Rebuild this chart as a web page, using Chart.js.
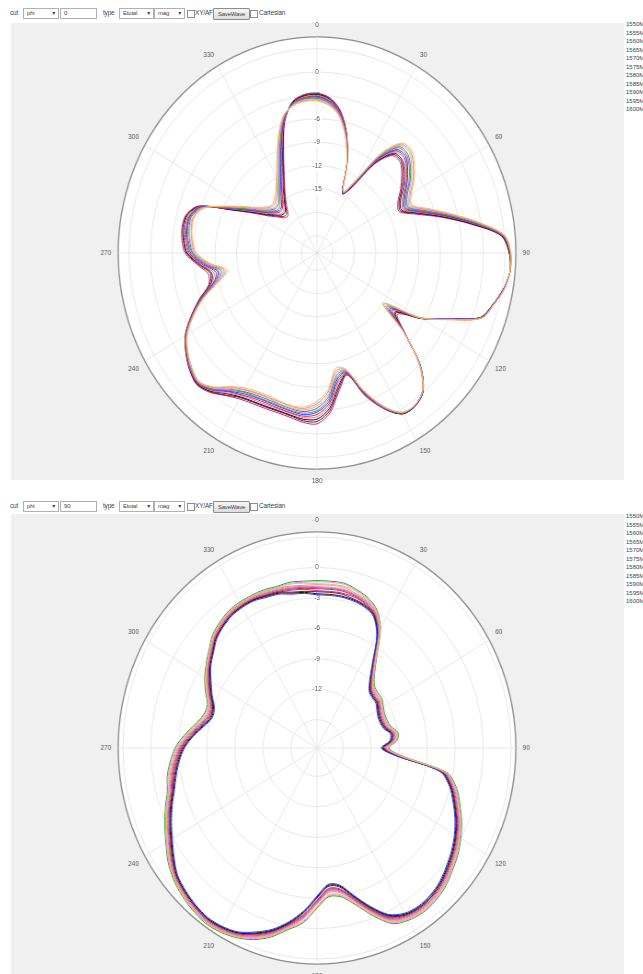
<!DOCTYPE html>
<html><head><meta charset="utf-8">
<script src="https://cdn.jsdelivr.net/npm/chart.js@4"></script>
<style>
body{margin:0;width:643px;height:974px;overflow:hidden;background:#fff;position:relative;font-family:"Liberation Sans","DejaVu Sans",sans-serif;color:#444}
.t{position:absolute;font-size:6.5px;line-height:10px;white-space:nowrap;letter-spacing:-0.2px}
.box{position:absolute;height:9px;border:1px solid #b0b0b0;background:#fff;font-size:6px;line-height:9px;padding-left:3px;box-sizing:content-box;letter-spacing:-0.2px}
.sel:after{content:"\25BE";position:absolute;right:3px;top:0;font-size:6px}
.btn{position:absolute;height:10px;border:1px solid #8c8c8c;background:linear-gradient(#f6f6f6,#dcdcdc);font-size:6px;line-height:10px;text-align:center;border-radius:1px;letter-spacing:-0.2px}
.chk{position:absolute;width:6px;height:6px;border:1px solid #8f8f8f;background:#fff}
.panel{position:absolute;left:11px;width:613px;background:#f0f0f0}
canvas.cv{position:absolute;left:57px;transform:scaleX(0.92);transform-origin:260px 232px}
.lg{position:absolute;left:626px;font-size:6px;line-height:8.5px;color:#444;white-space:nowrap}
</style></head><body>

<div class="t" style="left:10px;top:8px">cut</div>
<div class="box sel" style="left:23px;top:8px;width:31px">phi</div>
<div class="box" style="left:60px;top:8px;width:32px">0</div>
<div class="t" style="left:103px;top:8px">type</div>
<div class="box sel" style="left:119px;top:8px;width:30px">Etotal</div>
<div class="box sel" style="left:154px;top:8px;width:26px">mag</div>
<div class="chk" style="left:187px;top:10px"></div>
<div class="t" style="left:195px;top:8px">XY/AF</div>
<div class="btn" style="left:213px;top:8px;width:35px">SaveWave</div>
<div class="chk" style="left:250px;top:10px"></div>
<div class="t" style="left:259px;top:8px">Cartesian</div>

<div class="t" style="left:10px;top:501px">cut</div>
<div class="box sel" style="left:23px;top:501px;width:31px">phi</div>
<div class="box" style="left:60px;top:501px;width:32px">90</div>
<div class="t" style="left:103px;top:501px">type</div>
<div class="box sel" style="left:119px;top:501px;width:30px">Etotal</div>
<div class="box sel" style="left:154px;top:501px;width:26px">mag</div>
<div class="chk" style="left:187px;top:503px"></div>
<div class="t" style="left:195px;top:501px">XY/AF</div>
<div class="btn" style="left:213px;top:501px;width:35px">SaveWave</div>
<div class="chk" style="left:250px;top:503px"></div>
<div class="t" style="left:259px;top:501px">Cartesian</div>

<div class="panel" style="top:23px;height:457px"></div>
<div class="panel" style="top:514px;height:460px"></div>
<div class="lg" id="lg1" style="top:20px"></div>
<div class="lg" id="lg2" style="top:512px"></div>

<canvas class="cv" id="c1" width="520" height="464" style="top:21px"></canvas>
<canvas class="cv" id="c2" width="520" height="464" style="top:516px"></canvas>

<script>
const angleLabels = ['0','5','10','15','20','25','30','35','40','45','50','55','60','65','70','75','80','85','90','95','100','105','110','115','120','125','130','135','140','145','150','155','160','165','170','175','180','185','190','195','200','205','210','215','220','225','230','235','240','245','250','255','260','265','270','275','280','285','290','295','300','305','310','315','320','325','330','335','340','345','350','355'];
const freqLabels = ['1550MHz','1555MHz','1560MHz','1565MHz','1570MHz','1575MHz','1580MHz','1585MHz','1590MHz','1595MHz','1600MHz'];
const colors = ['#f7b860','#f08a8a','#d9a0e6','#2ca02c','#9467bd','#2040ff','#d62728','#e377c2','#111111','#8b1010','#b030b0'];

const topTicks = [-21,-18,-15,-12,-9,-6,-3,0,3,4.5];
const topTickLabels = ['-15','-12','-9','-6','-3','0'];
const botTicks = [-15,-12,-9,-6,-3,0,3,3.5];
const botTickLabels = ['-12','-9','-6','-3','0'];

// phi = 0 cut (dB)
const top1550 = [-3.7,-4.2,-5.4,-7.8,-11.0,-14.5,-12.5,-7.6,-4.8,-4.6,-5.5,-6.7,-8.0,-8.6,-6.6,-3.8,-0.4,3.0,3.8,3.8,3.3,2.3,1.2,-3.0,-6.6,-12.0,-7.5,-3.0,-0.3,0.6,0.4,-1.6,-4.6,-7.8,-8.2,-5.6,-4.2,-3.4,-3.3,-3.5,-3.7,-3.6,-3.2,-2.3,-0.8,0.1,-0.4,-1.2,-2.3,-4.2,-6.4,-9.0,-10.5,-8.2,-6.4,-5.8,-5.5,-5.5,-6.4,-9.0,-11.3,-13.0,-14.0,-14.4,-14.0,-13.2,-11.9,-10.0,-7.4,-5.0,-4.0,-3.7];
const top1555 = [-3.6,-4.1,-5.3,-7.8,-11.0,-14.5,-12.6,-7.8,-5.0,-4.8,-5.7,-6.9,-8.2,-8.8,-6.8,-4.0,-0.5,3.0,3.8,3.8,3.3,2.3,1.2,-3.0,-6.6,-11.8,-7.5,-3.0,-0.3,0.6,0.4,-1.6,-4.5,-7.7,-7.9,-5.3,-3.9,-3.2,-3.2,-3.4,-3.5,-3.4,-3.0,-2.2,-0.7,0.1,-0.4,-1.2,-2.3,-4.2,-6.3,-8.9,-10.2,-8.0,-6.2,-5.7,-5.4,-5.4,-6.3,-9.1,-11.5,-13.2,-14.2,-14.6,-14.3,-13.5,-12.1,-10.2,-7.6,-5.1,-4.0,-3.6];
const top1560 = [-3.5,-4.0,-5.2,-7.7,-11.0,-14.6,-12.7,-7.9,-5.2,-5.0,-6.0,-7.2,-8.4,-9.0,-7.0,-4.1,-0.6,2.9,3.8,3.8,3.3,2.3,1.2,-3.1,-6.6,-11.5,-7.4,-3.0,-0.3,0.6,0.4,-1.5,-4.4,-7.6,-7.6,-5.0,-3.6,-3.0,-3.0,-3.2,-3.4,-3.3,-2.9,-2.0,-0.6,0.2,-0.3,-1.1,-2.2,-4.1,-6.3,-8.7,-10.0,-7.8,-6.1,-5.5,-5.2,-5.3,-6.2,-9.2,-11.6,-13.4,-14.4,-14.9,-14.6,-13.7,-12.4,-10.5,-7.8,-5.2,-3.9,-3.5];
const top1565 = [-3.4,-3.9,-5.2,-7.7,-11.0,-14.6,-12.8,-8.1,-5.4,-5.3,-6.2,-7.4,-8.7,-9.2,-7.2,-4.3,-0.8,2.9,3.7,3.8,3.3,2.3,1.1,-3.1,-6.5,-11.3,-7.4,-3.0,-0.3,0.6,0.5,-1.5,-4.4,-7.6,-7.3,-4.7,-3.3,-2.8,-2.9,-3.1,-3.2,-3.1,-2.7,-1.9,-0.5,0.2,-0.3,-1.1,-2.2,-4.1,-6.2,-8.6,-9.7,-7.7,-5.9,-5.4,-5.1,-5.1,-6.2,-9.4,-11.8,-13.6,-14.6,-15.1,-14.9,-14.0,-12.6,-10.7,-8.1,-5.2,-3.9,-3.4];
const top1570 = [-3.3,-3.8,-5.1,-7.6,-11.0,-14.6,-12.9,-8.3,-5.6,-5.5,-6.4,-7.6,-8.9,-9.4,-7.4,-4.4,-0.9,2.8,3.7,3.8,3.3,2.3,1.1,-3.1,-6.5,-11.0,-7.4,-3.0,-0.3,0.6,0.5,-1.4,-4.3,-7.5,-7.0,-4.4,-3.0,-2.6,-2.7,-2.9,-3.0,-2.9,-2.6,-1.7,-0.4,0.3,-0.2,-1.1,-2.2,-4.0,-6.1,-8.4,-9.4,-7.5,-5.8,-5.2,-4.9,-5.0,-6.1,-9.5,-12.0,-13.8,-14.8,-15.4,-15.2,-14.2,-12.9,-11.0,-8.3,-5.3,-3.8,-3.3];
const top1575 = [-3.2,-3.7,-5.0,-7.6,-11.0,-14.7,-13.0,-8.5,-5.9,-5.7,-6.7,-7.9,-9.1,-9.6,-7.6,-4.6,-1.0,2.8,3.7,3.8,3.2,2.2,1.1,-3.2,-6.5,-10.8,-7.4,-3.0,-0.2,0.7,0.5,-1.4,-4.2,-7.4,-6.8,-4.1,-2.8,-2.4,-2.6,-2.8,-2.9,-2.8,-2.4,-1.6,-0.4,0.3,-0.2,-1.1,-2.2,-4.0,-6.1,-8.3,-9.2,-7.3,-5.6,-5.1,-4.8,-4.9,-6.0,-9.6,-12.2,-14.0,-15.0,-15.6,-15.5,-14.5,-13.1,-11.2,-8.5,-5.4,-3.8,-3.3];
const top1580 = [-3.1,-3.6,-4.9,-7.5,-11.0,-14.7,-13.1,-8.6,-6.1,-5.9,-6.9,-8.1,-9.3,-9.8,-7.8,-4.8,-1.1,2.7,3.7,3.8,3.2,2.2,1.1,-3.2,-6.5,-10.5,-7.3,-2.9,-0.2,0.7,0.5,-1.4,-4.1,-7.3,-6.5,-3.8,-2.5,-2.2,-2.4,-2.6,-2.7,-2.6,-2.2,-1.5,-0.3,0.4,-0.2,-1.0,-2.1,-4.0,-6.0,-8.2,-8.9,-7.1,-5.4,-4.9,-4.7,-4.8,-5.9,-9.7,-12.3,-14.1,-15.2,-15.8,-15.7,-14.8,-13.3,-11.4,-8.7,-5.5,-3.7,-3.2];
const top1585 = [-3.0,-3.5,-4.8,-7.5,-11.0,-14.7,-13.2,-8.8,-6.3,-6.1,-7.1,-8.3,-9.5,-10.0,-8.0,-4.9,-1.2,2.7,3.7,3.8,3.2,2.2,1.1,-3.2,-6.5,-10.3,-7.3,-2.9,-0.2,0.7,0.5,-1.3,-4.0,-7.2,-6.2,-3.5,-2.2,-2.0,-2.3,-2.5,-2.5,-2.4,-2.1,-1.3,-0.2,0.4,-0.1,-1.0,-2.1,-3.9,-5.9,-8.0,-8.6,-6.9,-5.3,-4.8,-4.5,-4.7,-5.8,-9.8,-12.5,-14.3,-15.4,-16.1,-16.0,-15.0,-13.6,-11.7,-8.9,-5.6,-3.7,-3.1];
const top1590 = [-2.9,-3.4,-4.8,-7.4,-11.0,-14.7,-13.3,-9.0,-6.5,-6.4,-7.3,-8.5,-9.8,-10.2,-8.2,-5.1,-1.4,2.6,3.6,3.8,3.2,2.2,1.0,-3.2,-6.4,-10.0,-7.3,-2.9,-0.2,0.7,0.6,-1.3,-4.0,-7.2,-5.9,-3.2,-1.9,-1.8,-2.1,-2.3,-2.3,-2.2,-1.9,-1.2,-0.1,0.5,-0.1,-1.0,-2.1,-3.9,-5.8,-7.9,-8.3,-6.8,-5.1,-4.6,-4.4,-4.5,-5.8,-10.0,-12.7,-14.5,-15.6,-16.3,-16.3,-15.3,-13.8,-11.9,-9.2,-5.6,-3.6,-3.0];
const top1595 = [-2.8,-3.3,-4.7,-7.4,-11.0,-14.8,-13.4,-9.1,-6.7,-6.6,-7.6,-8.8,-10.0,-10.4,-8.4,-5.2,-1.5,2.6,3.6,3.8,3.2,2.2,1.0,-3.3,-6.4,-9.8,-7.2,-2.9,-0.2,0.7,0.6,-1.2,-3.9,-7.1,-5.6,-2.9,-1.6,-1.6,-2.0,-2.2,-2.2,-2.1,-1.8,-1.0,0.0,0.5,0.0,-0.9,-2.0,-3.8,-5.8,-7.7,-8.1,-6.6,-5.0,-4.5,-4.2,-4.4,-5.7,-10.1,-12.8,-14.7,-15.8,-16.6,-16.6,-15.5,-14.1,-12.2,-9.4,-5.7,-3.6,-2.9];
const top1600 = [-2.7,-3.2,-4.6,-7.3,-11.0,-14.8,-13.5,-9.3,-6.9,-6.8,-7.8,-9.0,-10.2,-10.6,-8.6,-5.4,-1.6,2.5,3.6,3.8,3.2,2.2,1.0,-3.3,-6.4,-9.5,-7.2,-2.9,-0.2,0.7,0.6,-1.2,-3.8,-7.0,-5.3,-2.6,-1.3,-1.4,-1.8,-2.0,-2.0,-1.9,-1.6,-0.9,0.1,0.6,0.0,-0.9,-2.0,-3.8,-5.7,-7.6,-7.8,-6.4,-4.8,-4.3,-4.1,-4.3,-5.6,-10.2,-13.0,-14.9,-16.0,-16.8,-16.9,-15.8,-14.3,-12.4,-9.6,-5.8,-3.5,-2.8];

// phi = 90 cut (dB)
const bot1550 = [-1.6,-1.6,-1.6,-1.8,-2.2,-2.9,-4.4,-6.8,-8.4,-9.3,-9.5,-9.5,-9.8,-10.0,-10.0,-9.8,-9.2,-9.4,-10.3,-8.8,-3.8,-2.5,-1.7,-0.9,-0.2,0.4,0.9,1.4,1.7,1.8,1.6,1.1,-0.4,-2.0,-3.1,-3.3,-2.2,-0.7,0.2,1.3,2.1,2.7,3.0,3.1,2.9,2.6,2.2,1.5,0.7,0.0,-0.7,-1.4,-1.7,-2.2,-2.8,-3.7,-4.7,-5.4,-5.5,-4.8,-4.1,-3.4,-2.8,-2.1,-1.7,-1.4,-1.3,-1.3,-1.4,-1.5,-1.4,-1.5];
const bot1555 = [-1.7,-1.7,-1.7,-2.0,-2.3,-2.9,-4.4,-6.8,-8.4,-9.3,-9.5,-9.5,-9.8,-10.0,-10.0,-9.8,-9.2,-9.4,-10.3,-8.8,-3.8,-2.5,-1.7,-0.9,-0.2,0.4,0.9,1.4,1.7,1.8,1.6,1.0,-0.5,-2.1,-3.3,-3.5,-2.4,-0.9,0.2,1.3,2.1,2.6,2.9,3.0,2.8,2.5,2.1,1.5,0.7,0.0,-0.7,-1.4,-1.8,-2.3,-2.9,-3.8,-4.8,-5.5,-5.5,-4.8,-4.1,-3.5,-2.9,-2.2,-1.8,-1.5,-1.4,-1.4,-1.4,-1.5,-1.6,-1.7];
const bot1560 = [-1.4,-1.4,-1.4,-1.7,-2.1,-2.8,-4.3,-6.7,-8.3,-9.2,-9.4,-9.4,-9.7,-9.9,-9.9,-9.7,-9.1,-9.3,-10.2,-8.7,-3.7,-2.4,-1.6,-0.8,-0.1,0.5,1.0,1.5,1.8,1.9,1.7,1.2,-0.3,-1.9,-3.0,-3.2,-2.1,-0.6,0.3,1.4,2.2,2.7,3.0,3.1,2.9,2.6,2.2,1.6,0.8,0.1,-0.6,-1.3,-1.6,-2.1,-2.7,-3.6,-4.6,-5.3,-5.4,-4.7,-4.0,-3.4,-2.8,-2.1,-1.7,-1.4,-1.3,-1.3,-1.3,-1.4,-1.3,-1.4];
const bot1565 = [-1.3,-1.3,-1.3,-1.6,-2.0,-2.7,-4.2,-6.6,-8.2,-9.1,-9.3,-9.3,-9.6,-9.8,-9.8,-9.6,-9.0,-9.2,-10.1,-8.6,-3.6,-2.3,-1.5,-0.7,0.0,0.6,1.1,1.6,1.9,2.0,1.8,1.3,-0.2,-1.8,-2.9,-3.1,-2.0,-0.5,0.4,1.5,2.3,2.8,3.1,3.2,3.0,2.7,2.3,1.7,0.9,0.2,-0.5,-1.2,-1.5,-2.0,-2.6,-3.5,-4.5,-5.2,-5.3,-4.6,-3.9,-3.3,-2.7,-2.0,-1.6,-1.3,-1.2,-1.2,-1.2,-1.3,-1.2,-1.3];
const bot1570 = [-2.0,-2.0,-2.0,-2.2,-2.5,-3.1,-4.6,-7.0,-8.6,-9.5,-9.7,-9.7,-10.0,-10.2,-10.2,-10.0,-9.4,-9.6,-10.5,-9.0,-4.0,-2.7,-1.9,-1.1,-0.4,0.2,0.7,1.2,1.5,1.6,1.4,0.8,-0.7,-2.3,-3.5,-3.7,-2.6,-1.1,0.0,1.1,1.9,2.5,2.8,2.9,2.7,2.4,2.0,1.3,0.5,-0.2,-0.9,-1.6,-2.0,-2.5,-3.1,-4.0,-5.0,-5.7,-5.7,-5.0,-4.3,-3.6,-3.0,-2.3,-1.9,-1.6,-1.5,-1.5,-1.6,-1.7,-1.8,-1.9];
const bot1575 = [-2.7,-2.7,-2.7,-2.8,-3.0,-3.5,-5.0,-7.4,-9.0,-9.9,-10.1,-10.1,-10.4,-10.6,-10.6,-10.4,-9.8,-10.0,-10.9,-9.4,-4.4,-3.1,-2.3,-1.5,-0.8,-0.2,0.3,0.8,1.1,1.2,1.0,0.3,-1.2,-2.8,-4.1,-4.3,-3.2,-1.7,-0.4,0.7,1.5,2.2,2.5,2.6,2.4,2.1,1.7,0.9,0.1,-0.6,-1.3,-2.0,-2.5,-3.0,-3.6,-4.5,-5.5,-6.2,-6.1,-5.4,-4.7,-3.9,-3.3,-2.6,-2.2,-1.9,-1.8,-1.8,-2.0,-2.1,-2.4,-2.5];
const bot1580 = [-2.1,-2.1,-2.1,-2.3,-2.6,-3.2,-4.7,-7.1,-8.7,-9.6,-9.8,-9.8,-10.1,-10.3,-10.3,-10.1,-9.5,-9.7,-10.6,-9.1,-4.1,-2.8,-2.0,-1.2,-0.5,0.1,0.6,1.1,1.4,1.5,1.3,0.7,-0.8,-2.4,-3.6,-3.8,-2.7,-1.2,-0.1,1.0,1.8,2.4,2.7,2.8,2.6,2.3,1.9,1.2,0.4,-0.3,-1.0,-1.7,-2.1,-2.6,-3.2,-4.1,-5.1,-5.8,-5.8,-5.1,-4.4,-3.7,-3.1,-2.4,-2.0,-1.7,-1.6,-1.6,-1.7,-1.8,-1.9,-2.0];
const bot1585 = [-1.9,-1.9,-1.9,-2.1,-2.4,-3.0,-4.5,-6.9,-8.5,-9.4,-9.6,-9.6,-9.9,-10.1,-10.1,-9.9,-9.3,-9.5,-10.4,-8.9,-3.9,-2.6,-1.8,-1.0,-0.3,0.3,0.8,1.3,1.6,1.7,1.5,0.9,-0.6,-2.2,-3.4,-3.6,-2.5,-1.0,0.1,1.2,2.0,2.6,2.9,3.0,2.8,2.5,2.1,1.4,0.6,-0.1,-0.8,-1.5,-1.9,-2.4,-3.0,-3.9,-4.9,-5.6,-5.6,-4.9,-4.2,-3.5,-2.9,-2.2,-1.8,-1.5,-1.4,-1.4,-1.5,-1.6,-1.7,-1.8];
const bot1590 = [-2.6,-2.6,-2.6,-2.7,-2.9,-3.4,-4.9,-7.3,-8.9,-9.8,-10.0,-10.0,-10.3,-10.5,-10.5,-10.3,-9.7,-9.9,-10.8,-9.3,-4.3,-3.0,-2.2,-1.4,-0.7,-0.1,0.4,0.9,1.2,1.3,1.1,0.4,-1.1,-2.7,-4.0,-4.2,-3.1,-1.6,-0.3,0.8,1.6,2.3,2.6,2.7,2.5,2.2,1.8,1.0,0.2,-0.5,-1.2,-1.9,-2.4,-2.9,-3.5,-4.4,-5.4,-6.1,-6.0,-5.3,-4.6,-3.8,-3.2,-2.5,-2.1,-1.8,-1.7,-1.7,-1.9,-2.0,-2.3,-2.4];
const bot1595 = [-2.4,-2.4,-2.4,-2.6,-2.8,-3.3,-4.8,-7.2,-8.8,-9.7,-9.9,-9.9,-10.2,-10.4,-10.4,-10.2,-9.6,-9.8,-10.7,-9.2,-4.2,-2.9,-2.1,-1.3,-0.6,0.0,0.5,1.0,1.3,1.4,1.2,0.5,-1.0,-2.6,-3.9,-4.1,-3.0,-1.5,-0.2,0.9,1.7,2.3,2.6,2.7,2.5,2.2,1.8,1.1,0.3,-0.4,-1.1,-1.8,-2.3,-2.8,-3.4,-4.3,-5.3,-6.0,-5.9,-5.2,-4.5,-3.8,-3.2,-2.5,-2.1,-1.8,-1.7,-1.7,-1.8,-1.9,-2.2,-2.3];
const bot1600 = [-2.3,-2.3,-2.3,-2.4,-2.7,-3.3,-4.8,-7.2,-8.8,-9.7,-9.9,-9.9,-10.2,-10.4,-10.4,-10.2,-9.6,-9.8,-10.7,-9.2,-4.2,-2.9,-2.1,-1.3,-0.6,0.0,0.5,1.0,1.3,1.4,1.2,0.6,-0.9,-2.5,-3.7,-3.9,-2.8,-1.3,-0.2,0.9,1.7,2.4,2.7,2.8,2.6,2.3,1.9,1.1,0.3,-0.4,-1.1,-1.8,-2.2,-2.7,-3.3,-4.2,-5.2,-5.9,-5.9,-5.2,-4.5,-3.7,-3.1,-2.4,-2.0,-1.7,-1.6,-1.6,-1.8,-1.9,-2.0,-2.1];

const topSeries = [top1550,top1555,top1560,top1565,top1570,top1575,top1580,top1585,top1590,top1595,top1600];
const botSeries = [bot1550,bot1555,bot1560,bot1565,bot1570,bot1575,bot1580,bot1585,bot1590,bot1595,bot1600];

function legend(id){
  const el = document.getElementById(id);
  el.innerHTML = freqLabels.map(f => '<div>' + f + '</div>').join('');
}
legend('lg1'); legend('lg2');

function makeChart(id, series, min, max, ticks, tickLabels){
  const datasets = series.map((d, i) => ({label: freqLabels[i], data: d, borderColor: colors[i], borderWidth: 1, pointRadius: 0, fill: false, tension: 0.3}));
  new Chart(document.getElementById(id), {
    type: 'radar',
    data: {labels: angleLabels, datasets},
    options: {
      responsive: false, animation: false, events: [],
      layout: {padding: 0},
      plugins: {legend: {display: false}, tooltip: {enabled: false}},
      scales: {r: {
        min, max, backgroundColor: '#ffffff',
        afterBuildTicks: s => { s.ticks = ticks.map(v => ({value: v})); },
        grid: {circular: true,
          color: c => (c.tick && c.tick.value === max) ? '#8c8c8c' : '#e3e3e3',
          lineWidth: c => (c.tick && c.tick.value === max) ? 1.4 : 0.8},
        angleLines: {color: c => c.index % 6 === 0 ? '#e3e3e3' : 'rgba(0,0,0,0)', lineWidth: 0.8},
        ticks: {font: {size: 7, family: 'Liberation Sans'}, color: '#555', showLabelBackdrop: true,
          backdropPadding: 1,
          backdropColor: c => (c.tick && c.tick.label) ? '#ffffff' : 'rgba(0,0,0,0)',
          callback: v => tickLabels.includes(String(v)) ? String(v) : ''},
        pointLabels: {font: {size: 7, family: 'Liberation Sans'}, color: '#555', padding: 3,
          callback: (l, i) => i % 6 === 0 ? l : ''}
      }}
    }
  });
}
makeChart('c1', topSeries, -23.2, 4.5, topTicks, topTickLabels);
makeChart('c2', botSeries, -17.8, 3.5, botTicks, botTickLabels);
</script>
</body></html>
